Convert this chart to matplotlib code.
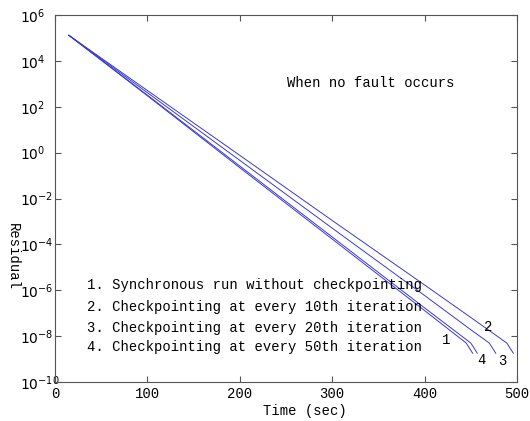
import matplotlib
matplotlib.use('Agg')
import matplotlib.pyplot as plt
from matplotlib.ticker import NullLocator

# residual curves (time in sec)
t1 = [15, 100, 200, 300, 400, 445, 452]
r1 = [1.3e5, 3.0e2, 2.2e-1, 1.7e-4, 1.3e-7, 5.0e-9, 1.8e-9]
t2 = [15, 100, 200, 300, 400, 450, 489, 496]
r2 = [1.3e5, 5.1e2, 7.6e-1, 1.1e-3, 1.7e-6, 6.5e-8, 5.0e-9, 1.8e-9]
t3 = [15, 100, 200, 300, 400, 450, 470, 477]
r3 = [1.3e5, 4.1e2, 4.6e-1, 5.1e-4, 5.9e-7, 1.9e-8, 5.0e-9, 1.8e-9]
t4 = [15, 100, 200, 300, 400, 450, 457]
r4 = [1.3e5, 3.2e2, 2.6e-1, 2.1e-4, 1.7e-7, 5.0e-9, 1.8e-9]

legend_lines = ['1. Synchronous run without checkpointing',
                '2. Checkpointing at every 10th iteration',
                '3. Checkpointing at every 20th iteration',
                '4. Checkpointing at every 50th iteration']
curve_tags = ['1', '2', '3', '4']
tag_x = [423, 469, 484, 462]
tag_y = [6.8e-9, 2.5e-8, 8.1e-10, 9.1e-10]

xticks = [0, 100, 200, 300, 400, 500]
yticks = [1e-10, 1e-8, 1e-6, 1e-4, 1e-2, 1e0, 1e2, 1e4, 1e6]

mono = 'Liberation Mono'
col = '#3a3acc'

fig = plt.figure(figsize=(5.30, 4.21), dpi=100)
ax = fig.add_axes([0.1038, 0.0926, 0.8717, 0.8718])

for t, r in [(t1, r1), (t2, r2), (t3, r3), (t4, r4)]:
    ax.plot(t, r, color=col, lw=0.7)

ax.set_yscale('log')
ax.set_xlim(0, 500)
ax.set_ylim(1e-10, 1e6)
ax.set_xticks(xticks)
ax.set_xticklabels([str(v) for v in xticks], family=mono, fontsize=9.5)
ax.set_yticks(yticks)
ax.yaxis.set_minor_locator(NullLocator())
ax.tick_params(direction='in', top=True, right=True, length=4,
               color='#555555', labelsize=10)
ax.tick_params(axis='y', pad=25)
for lab in ax.get_yticklabels():
    lab.set_horizontalalignment('left')
for s in ax.spines.values():
    s.set_color('#555555')

ax.set_xlabel('Time (sec)', family=mono, fontsize=10)
ax.xaxis.set_label_coords(0.54, -0.06)
fig.text(0.025, 0.39, 'Residual', rotation=270, family=mono, fontsize=10,
         ha='center', va='center')

ax.text(0.502, 0.815, 'When no fault occurs', transform=ax.transAxes,
        family=mono, fontsize=10, va='center')
ys = [0.264, 0.204, 0.147, 0.095]
for txt, yy in zip(legend_lines, ys):
    ax.text(0.069, yy, txt, transform=ax.transAxes, family=mono,
            fontsize=10, va='center')
for tag, x, y in zip(curve_tags, tag_x, tag_y):
    ax.text(x, y, tag, family=mono, fontsize=10, ha='center', va='center')

fig.savefig('out.png', dpi=100)
